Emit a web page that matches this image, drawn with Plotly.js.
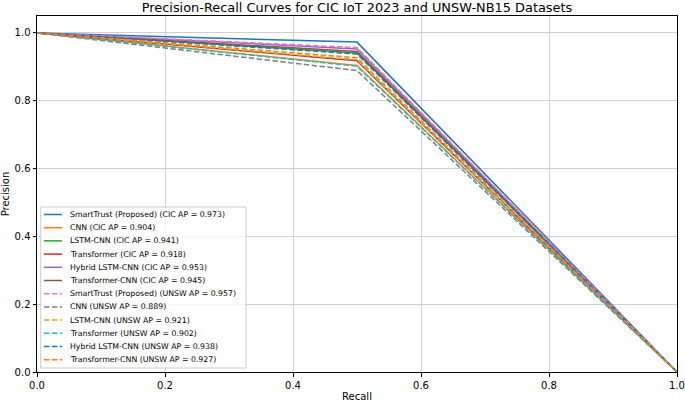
<!DOCTYPE html>
<html>
<head>
<meta charset="utf-8">
<script src="https://cdn.plot.ly/plotly-3.0.1.min.js"></script>
<style>
  html, body { margin: 0; padding: 0; background: #fff; }
  #chart { width: 685px; height: 402px; }
</style>
</head>
<body>
<div id="chart"></div>
<script>
const models = ['SmartTrust (Proposed)', 'CNN', 'LSTM-CNN', 'Transformer', 'Hybrid LSTM-CNN', 'Transformer-CNN'];
const cicAP = [0.973, 0.904, 0.941, 0.918, 0.953, 0.945];
const unswAP = [0.957, 0.889, 0.921, 0.902, 0.938, 0.927];
const recall = [0, 0.5, 1];

// matplotlib default cycle
const colors = ['#1f77b4', '#ff7f0e', '#2ca02c', '#d62728', '#9467bd', '#8c564b',
  '#e377c2', '#7f7f7f', '#bcbd22', '#17becf', '#1f77b4', '#ff7f0e'];
const dashStyle = '5.5px,2.4px';

let traces = [];
models.forEach((m, i) => {
  traces.push({
    x: recall,
    y: [1, cicAP[i], 0],
    type: 'scatter',
    mode: 'lines',
    name: m + ' (CIC AP = ' + cicAP[i].toFixed(3) + ')',
    line: { color: colors[i], width: 1.5 },
  });
});
models.forEach((m, i) => {
  traces.push({
    x: recall,
    y: [1, unswAP[i], 0],
    type: 'scatter',
    mode: 'lines',
    name: m + ' (UNSW AP = ' + unswAP[i].toFixed(3) + ')',
    line: { color: colors[i + 6], width: 1.5, dash: dashStyle },
  });
});

// plotly's own legend rows are too tall, so the legend is laid out by hand
// (plot area is 640 x 356 px, offsets below are px from its top-left)
const plotW = 640, plotH = 356;
const rowTop = 198.5, rowStep = 13.2;
let shapes = [{
  type: 'rect', xref: 'paper', yref: 'paper',
  x0: 3.7 / plotW, x1: 209 / plotW, y0: 1 - 352 / plotH, y1: 1 - 191 / plotH,
  fillcolor: 'rgba(255,255,255,0.8)', line: { color: '#cccccc', width: 1 },
  layer: 'above',
}];
let annotations = [];
traces.forEach((t, i) => {
  let yc = 1 - (rowTop + i * rowStep) / plotH;
  shapes.push({
    type: 'line', xref: 'paper', yref: 'paper',
    x0: 7 / plotW, x1: 25 / plotW, y0: yc, y1: yc,
    line: { color: t.line.color, width: 1.5, dash: t.line.dash || 'solid' },
    layer: 'above',
  });
  annotations.push({
    xref: 'paper', yref: 'paper', x: 30.5 / plotW, y: yc,
    xanchor: 'left', yanchor: 'middle', showarrow: false,
    text: t.name,
    font: { family: 'DejaVu Sans', size: 7.8, color: '#000' },
  });
});

const axisFont = { family: 'DejaVu Sans', size: 10, color: '#000' };

let layout = {
  width: 685,
  height: 402,
  margin: { l: 37, r: 8, t: 16, b: 30 },
  paper_bgcolor: '#fff',
  plot_bgcolor: '#fff',
  font: { family: 'DejaVu Sans', color: '#000' },
  title: {
    text: 'Precision-Recall Curves for CIC IoT 2023 and UNSW-NB15 Datasets',
    font: { family: 'DejaVu Sans', size: 12.9, color: '#000' },
    x: 0.5, xref: 'paper', y: 1 - 7.5 / 402, yanchor: 'middle',
  },
  xaxis: {
    range: [0, 1],
    tickvals: [0, 0.2, 0.4, 0.6, 0.8, 1.0],
    tickformat: '.1f',
    ticks: 'outside', ticklen: 3.5, tickcolor: '#000',
    tickfont: axisFont,
    ticklabeloverflow: 'allow',
    showgrid: true, gridcolor: '#d0d0d0', gridwidth: 1,
    showline: true, linecolor: '#000', linewidth: 1, mirror: true,
    zeroline: false,
    title: { text: 'Recall', font: axisFont, standoff: 4 },
  },
  yaxis: {
    range: [0, 1.05],
    tickvals: [0, 0.2, 0.4, 0.6, 0.8, 1.0],
    tickformat: '.1f',
    ticks: 'outside', ticklen: 3.5, tickcolor: '#000',
    tickfont: axisFont,
    showgrid: true, gridcolor: '#d0d0d0', gridwidth: 1,
    showline: true, linecolor: '#000', linewidth: 1, mirror: true,
    zeroline: false,
    title: { text: 'Precision', font: axisFont, standoff: 4 },
  },
  showlegend: false,
  shapes: shapes,
  annotations: annotations,
};

Plotly.newPlot('chart', traces, layout, { displayModeBar: false, staticPlot: true });
</script>
</body>
</html>
